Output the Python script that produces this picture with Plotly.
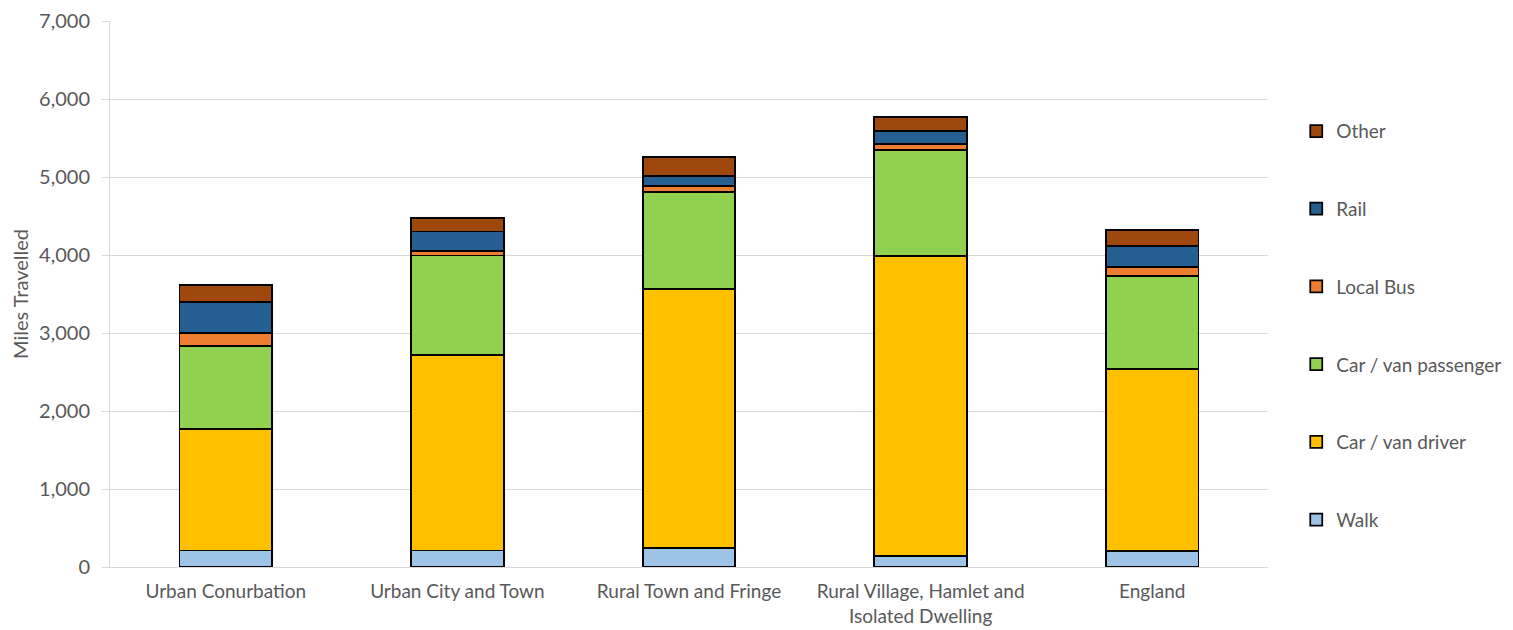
import plotly.graph_objects as go

categories = ["Urban Conurbation", "Urban City and Town", "Rural Town and Fringe",
              "Rural Village, Hamlet and<br>Isolated Dwelling", "England"]
walk = [210, 210, 240, 145, 205]
car_driver = [1555, 2505, 3320, 3846, 2330]
car_passenger = [1064, 1277, 1244, 1359, 1196]
local_bus = [167, 60, 84, 77, 111]
rail = [398, 248, 125, 167, 277]
other = [221, 172, 247, 175, 202]

series = [
    ("Walk", walk, "#9dc3e6"),
    ("Car / van driver", car_driver, "#ffc000"),
    ("Car / van passenger", car_passenger, "#92d050"),
    ("Local Bus", local_bus, "#ed7d31"),
    ("Rail", rail, "#255e91"),
    ("Other", other, "#9e480e"),
]

fig = go.Figure()
n = len(series)
for i, (name, vals, col) in enumerate(series):
    fig.add_trace(go.Bar(
        x=categories, y=vals, name=name, legendgroup=name,
        legendrank=n - i,
        marker=dict(color=col, line=dict(color="black", width=1.75)),
    ))

font_family = "Lato, Open Sans, sans-serif"
fig.update_layout(
    barmode="stack",
    bargap=0.6,
    width=1505, height=622,
    margin=dict(l=102, r=245, t=13, b=63, autoexpand=False),
    paper_bgcolor="white", plot_bgcolor="white",
    font=dict(family=font_family, size=20, color="#595959"),
    legend=dict(
        x=1.0244, y=0.833, xanchor="left", yanchor="top",
        traceorder="grouped", tracegroupgap=50,
        font=dict(size=19, color="#595959"),
        itemwidth=30,
    ),
    yaxis=dict(
        range=[0, 7000], dtick=1000, tickformat=",",
        showgrid=True, gridcolor="#d9d9d9", gridwidth=1,
        showline=True, linecolor="#d9d9d9", linewidth=1,
        ticks="outside", ticklen=7, tickcolor="#d9d9d9",
        ticklabelstandoff=8,
        zeroline=False, automargin=False,
        title=dict(text="Miles Travelled", font=dict(size=20, color="#595959"), standoff=14),
        tickfont=dict(size=20, color="#595959"),
    ),
    xaxis=dict(
        showline=True, linecolor="#d9d9d9", linewidth=1,
        ticks="", tickfont=dict(size=19, color="#595959"),
        ticklabelstandoff=7, automargin=False,
    ),
)

fig.write_html("out.html")
